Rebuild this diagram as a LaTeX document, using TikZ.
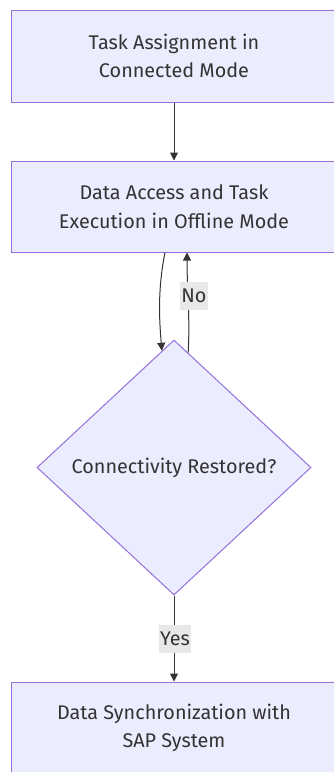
\documentclass[tikz,border=0pt]{standalone}
\usepackage{fontspec}
\setmainfont{Fira Sans}
\usetikzlibrary{shapes.geometric,arrows.meta,calc}
\definecolor{boxfill}{HTML}{ECECFF}
\definecolor{boxline}{HTML}{9370DB}
\definecolor{txt}{HTML}{333333}
\definecolor{lblbg}{HTML}{E8E8E8}
\tikzset{
  procbox/.style={draw=boxline, fill=boxfill, line width=1pt, minimum width=326pt, minimum height=92pt,
    inner sep=0pt, align=center, text=txt, font=\fontsize{19.8}{28.5}\selectfont},
  decision/.style={shape=diamond, draw=boxline, fill=boxfill, line width=1pt, minimum width=274pt,
    minimum height=255pt, inner sep=0pt, text=txt, font=\fontsize{19.8}{28}\selectfont},
  conn/.style={draw=txt, line width=1pt, -{Triangle[length=8pt,width=8pt]}},
  elabel/.style={fill=lblbg, text=txt, inner xsep=1pt, inner ysep=0pt, minimum height=28pt,
    font=\fontsize{19.8}{22}\selectfont}
}
\begin{document}
\begin{tikzpicture}[x=1pt,y=-1pt]
\useasboundingbox (0,0) rectangle (334,772);
\fill[white] (0,0) rectangle (334,772);
\node[procbox] (a) at (174,56) {Task Assignment in\\Connected Mode};
\node[procbox, minimum height=91pt] (b) at (174,206.5) {Data Access and Task\\Execution in Offline Mode};
\node[decision] (c) at (174,467.5) {Connectivity Restored?};
\node[procbox] (d) at (174,728) {Data Synchronization with\\SAP System};
\draw[conn] (a.south) -- (b.north);
\coordinate (bl) at ([xshift=-9pt]b.south);
\coordinate (br) at ([xshift=13pt]b.south);
\coordinate (cl) at ($(c.north)!0.088!(c.west)$);
\coordinate (cr) at ($(c.north)!0.103!(c.east)$);
\draw[conn] (bl) .. controls ([xshift=-7pt,yshift=-35pt]bl) and ([xshift=-3pt,yshift=35pt]cl) .. (cl);
\draw[conn] (cr) .. controls ([xshift=2pt,yshift=35pt]cr) and ([xshift=0pt,yshift=-35pt]br) .. (br);
\node[elabel] (no) at (194,296) {No};
\draw[conn] (c.south) -- (d.north);
\node[elabel] (yes) at (175,639) {Yes};
\end{tikzpicture}
\end{document}
